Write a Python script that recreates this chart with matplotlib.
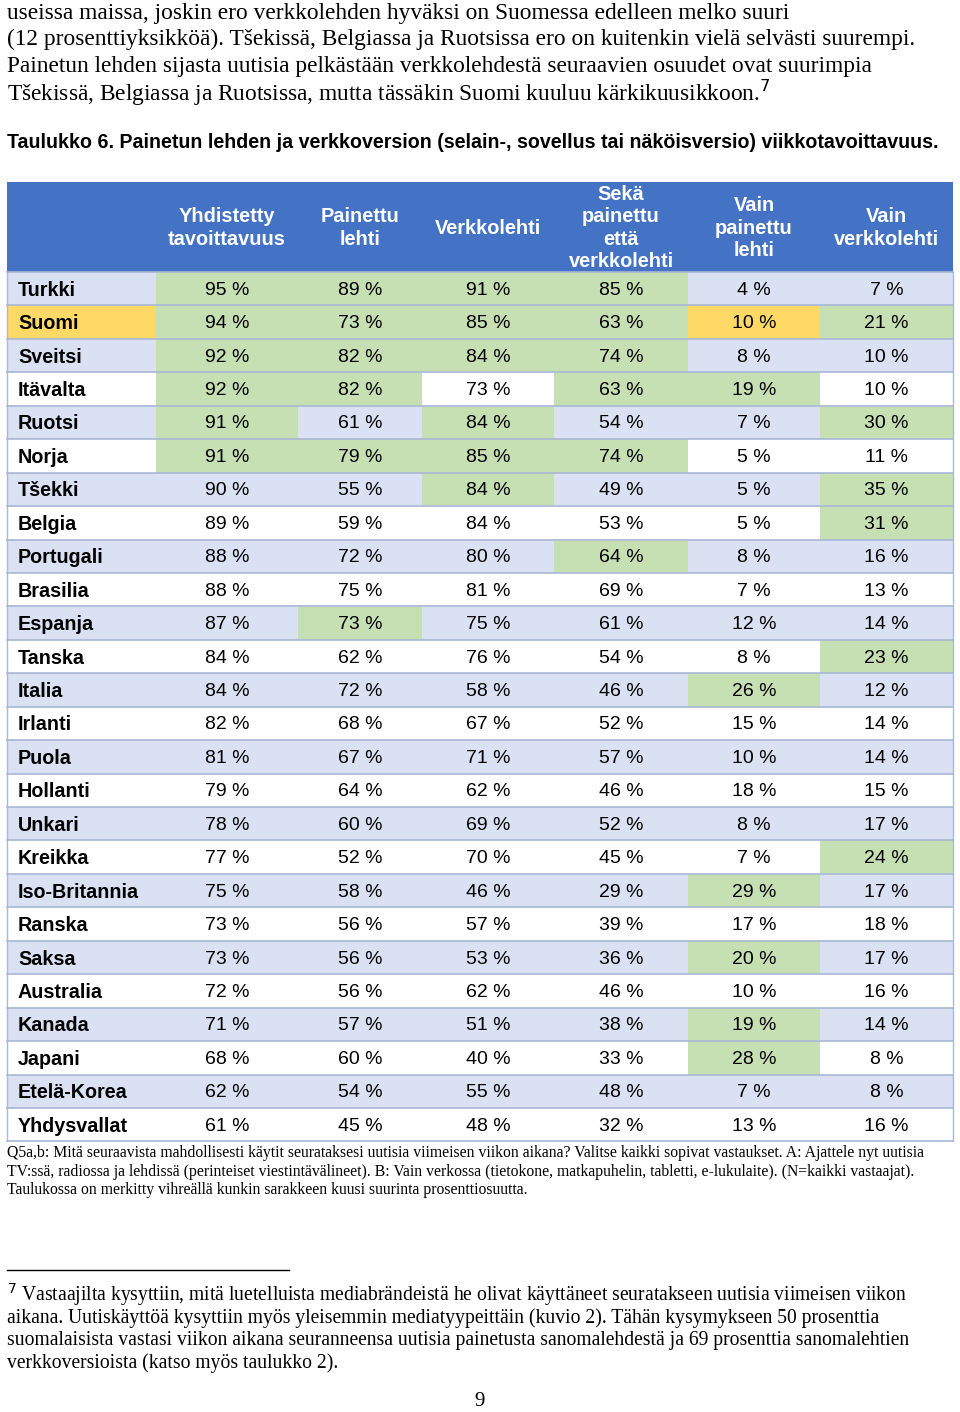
import matplotlib
matplotlib.use("Agg")
from matplotlib import pyplot as plt
from matplotlib.patches import Rectangle

# tiedot
maat = ["Turkki", "Suomi", "Sveitsi", "Itävalta", "Ruotsi", "Norja", "Tšekki",
        "Belgia", "Portugali", "Brasilia", "Espanja", "Tanska", "Italia",
        "Irlanti", "Puola", "Hollanti", "Unkari", "Kreikka", "Iso-Britannia",
        "Ranska", "Saksa", "Australia", "Kanada", "Japani", "Etelä-Korea",
        "Yhdysvallat"]
otsikot = ["Yhdistetty\ntavoittavuus", "Painettu\nlehti", "Verkkolehti",
           "Sekä\npainettu\nettä\nverkkolehti", "Vain\npainettu\nlehti",
           "Vain\nverkkolehti"]
yhdistetty = [95, 94, 92, 92, 91, 91, 90, 89, 88, 88, 87, 84, 84, 82, 81, 79,
              78, 77, 75, 73, 73, 72, 71, 68, 62, 61]
painettu = [89, 73, 82, 82, 61, 79, 55, 59, 72, 75, 73, 62, 72, 68, 67, 64,
            60, 52, 58, 56, 56, 56, 57, 60, 54, 45]
verkko = [91, 85, 84, 73, 84, 85, 84, 84, 80, 81, 75, 76, 58, 67, 71, 62,
          69, 70, 46, 57, 53, 62, 51, 40, 55, 48]
seka = [85, 63, 74, 63, 54, 74, 49, 53, 64, 69, 61, 54, 46, 52, 57, 46,
        52, 45, 29, 39, 36, 46, 38, 33, 48, 32]
vain_painettu = [4, 10, 8, 19, 7, 5, 5, 5, 8, 7, 12, 8, 26, 15, 10, 18,
                 8, 7, 29, 17, 20, 10, 19, 28, 7, 13]
vain_verkko = [7, 21, 10, 10, 30, 11, 35, 31, 16, 13, 14, 23, 12, 14, 14, 15,
               17, 24, 17, 18, 17, 16, 14, 8, 8, 16]
sarakkeet = [yhdistetty, painettu, verkko, seka, vain_painettu, vain_verkko]

# vihreällä merkityt rivit (kuusi suurinta) sarakkeittain, luettu kuvasta
vihreat = [
    [0, 1, 2, 3, 4, 5],
    [0, 1, 2, 3, 5, 10],
    [0, 1, 2, 4, 5, 6],
    [0, 1, 2, 3, 5, 8],
    [3, 12, 18, 20, 22, 23],
    [1, 4, 6, 7, 11, 17],
]
suomi_keltainen = [(1, 4)]  # (rivi, sarake)

SININEN = "#4472C4"
VAALEA = "#D9E1F2"
VIHREA = "#C6E0B4"
KELTAINEN = "#FFD966"
VIIVA = "#A9B8D6"

fig = plt.figure(figsize=(9.6, 14.12), dpi=100)
ax = fig.add_axes([0, 0, 1, 1])
ax.set_xlim(0, 960)
ax.set_ylim(1412, 0)
ax.axis("off")

serif = ["Liberation Serif", "DejaVu Serif"]
sans = ["Liberation Sans", "DejaVu Sans"]

# leipäteksti
kappale = ["useissa maissa, joskin ero verkkolehden hyväksi on Suomessa edelleen melko suuri",
           "(12 prosenttiyksikköä). Tšekissä, Belgiassa ja Ruotsissa ero on kuitenkin vielä selvästi suurempi.",
           "Painetun lehden sijasta uutisia pelkästään verkkolehdestä seuraavien osuudet ovat suurimpia",
           "Tšekissä, Belgiassa ja Ruotsissa, mutta tässäkin Suomi kuuluu kärkikuusikkoon.$^{7}$"]
for i, rivi in enumerate(kappale):
    ax.text(7, 13 + i * 26.6, rivi, family=serif, fontsize=16.8, va="center", ha="left")

ax.text(7, 143, "Taulukko 6. Painetun lehden ja verkkoversion (selain-, sovellus tai näköisversio) viikkotavoittavuus.",
        family=sans, fontsize=14.1, fontweight="bold", va="center", ha="left")

# taulukko
reunat = [7, 156, 298, 422, 554, 688, 820, 953]
yla = 182
ots_ala = 272
rk = 33.44

ax.add_patch(Rectangle((reunat[0], yla), reunat[-1] - reunat[0], ots_ala - yla,
                       facecolor=SININEN, edgecolor="none"))
for j, t in enumerate(otsikot):
    xc = (reunat[j + 1] + reunat[j + 2]) / 2
    ax.text(xc, (yla + ots_ala) / 2 + 1, t, color="white", fontweight="bold",
            family=sans, fontsize=14.4, ha="center", va="center", linespacing=1.24)

for i, maa in enumerate(maat):
    y0 = ots_ala + i * rk
    pohja = VAALEA if i % 2 == 0 else "white"
    maa_vari = KELTAINEN if maa == "Suomi" else pohja
    ax.add_patch(Rectangle((reunat[0], y0), reunat[1] - reunat[0], rk,
                           facecolor=maa_vari, edgecolor="none"))
    ax.text(18, y0 + rk / 2 + 1.5, maa, fontweight="bold", family=sans, fontsize=14.2,
            ha="left", va="center")
    for j, arvot in enumerate(sarakkeet):
        if (i, j) in suomi_keltainen:
            vari = KELTAINEN
        elif i in vihreat[j]:
            vari = VIHREA
        else:
            vari = pohja
        ax.add_patch(Rectangle((reunat[j + 1], y0), reunat[j + 2] - reunat[j + 1], rk,
                               facecolor=vari, edgecolor="none"))
        ax.text((reunat[j + 1] + reunat[j + 2]) / 2, y0 + rk / 2 + 1.5, f"{arvot[i]} %",
                family=sans, fontsize=14, ha="center", va="center")
    ax.plot([reunat[0], reunat[-1]], [y0, y0], color=VIIVA, lw=1.2)

ala = ots_ala + len(maat) * rk
ax.plot([reunat[0], reunat[-1]], [ala, ala], color=VIIVA, lw=1.2)
ax.plot([reunat[0], reunat[0]], [ots_ala, ala], color=VIIVA, lw=1.0)
ax.plot([reunat[-1], reunat[-1]], [ots_ala, ala], color=VIIVA, lw=1.0)

# lähde
lahde = ["Q5a,b: Mitä seuraavista mahdollisesti käytit seurataksesi uutisia viimeisen viikon aikana? Valitse kaikki sopivat vastaukset. A: Ajattele nyt uutisia",
         "TV:ssä, radiossa ja lehdissä (perinteiset viestintävälineet). B: Vain verkossa (tietokone, matkapuhelin, tabletti, e-lukulaite). (N=kaikki vastaajat).",
         "Taulukossa on merkitty vihreällä kunkin sarakkeen kuusi suurinta prosenttiosuutta."]
for i, rivi in enumerate(lahde):
    ax.text(7, 1153 + i * 18.5, rivi, family=serif, fontsize=11.3, va="center", ha="left")

# alaviite
ax.plot([7, 289], [1270, 1270], color="black", lw=1.0)
alaviite = ["$^{7}$ Vastaajilta kysyttiin, mitä luetelluista mediabrändeistä he olivat käyttäneet seuratakseen uutisia viimeisen viikon",
            "aikana. Uutiskäyttöä kysyttiin myös yleisemmin mediatyypeittäin (kuvio 2). Tähän kysymykseen 50 prosenttia",
            "suomalaisista vastasi viikon aikana seuranneensa uutisia painetusta sanomalehdestä ja 69 prosenttia sanomalehtien",
            "verkkoversioista (katso myös taulukko 2)."]
for i, rivi in enumerate(alaviite):
    ax.text(7, 1295 + i * 22.7, rivi, family=serif, fontsize=14.1, va="center", ha="left")

ax.text(480, 1401, "9", family=serif, fontsize=15, ha="center", va="center")

fig.savefig("out.png", dpi=100, facecolor="white")
